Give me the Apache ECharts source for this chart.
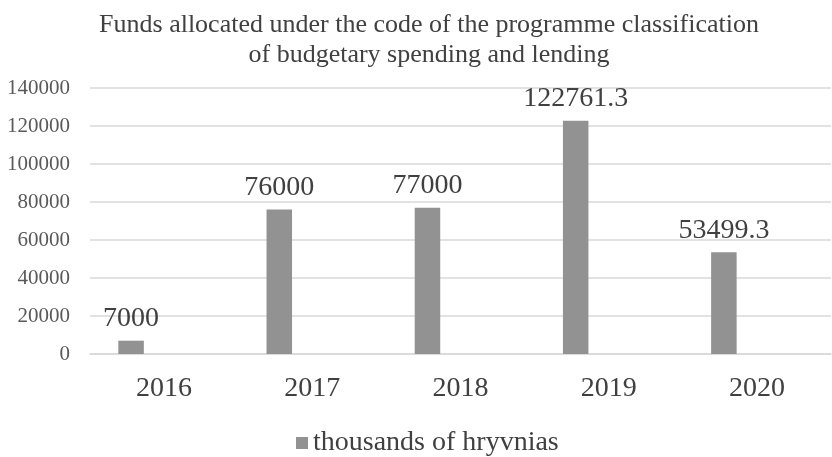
<!DOCTYPE html>
<html>
<head>
<meta charset="utf-8">
<script src="https://cdn.jsdelivr.net/npm/echarts@6/dist/echarts.min.js"></script>
<style>
  html, body { margin: 0; padding: 0; background: #fff; }
  #main { width: 832px; height: 457px; }
</style>
</head>
<body>
<div id="main"></div>
<script>
// data
const years = ['2016', '2017', '2018', '2019', '2020'];
const funds = [7000, 76000, 77000, 122761.3, 53499.3];
const emptySeries = [null, null, null, null, null]; // second (empty) slot, as in the source chart
const yTicks = { min: 0, max: 140000, interval: 20000 };

const serif = 'Liberation Serif';

const myChart = echarts.init(document.getElementById('main'));
const option = {
    backgroundColor: '#fff',
    animation: false,
    title: {
        text: 'Funds allocated under the code of the programme classification\nof budgetary spending and lending',
        left: 424,
        top: 5,
        textAlign: 'center',
        textStyle: {
            fontFamily: serif,
            fontSize: 26,
            fontWeight: 'normal',
            color: '#404040',
            lineHeight: 30
        }
    },
    legend: {
        data: ['thousands of hryvnias'],
        left: 291,
        top: 424,
        icon: 'rect',
        itemWidth: 12,
        itemHeight: 12,
        itemGap: 8,
        textStyle: { fontFamily: serif, fontSize: 28, color: '#404040' }
    },
    grid: { left: 90, right: 1, top: 88, bottom: 103, containLabel: false },
    xAxis: {
        type: 'category',
        data: years,
        axisTick: { show: false },
        axisLine: { lineStyle: { color: '#d9d9d9', width: 1.5 } },
        axisLabel: { fontFamily: serif, fontSize: 28, color: '#404040', margin: 21 }
    },
    yAxis: {
        type: 'value',
        min: yTicks.min,
        max: yTicks.max,
        interval: yTicks.interval,
        axisLine: { show: false },
        axisTick: { show: false },
        splitLine: { lineStyle: { color: '#d9d9d9', width: 1.5 } },
        axisLabel: {
            fontFamily: serif,
            fontSize: 21,
            color: '#595959',
            margin: 20,
            formatter: v => String(v)
        }
    },
    series: [
        {
            name: 'thousands of hryvnias',
            type: 'bar',
            data: funds,
            barWidth: 25.5,
            barGap: '159%',
            itemStyle: { color: '#929292' },
            label: {
                show: true,
                position: 'top',
                distance: 8,
                fontFamily: serif,
                fontSize: 28,
                color: '#404040'
            }
        },
        {
            name: 'empty',
            type: 'bar',
            data: emptySeries,
            barWidth: 25.5,
            itemStyle: { color: '#5a5a5a' }
        }
    ]
};
myChart.setOption(option);
</script>
</body>
</html>
